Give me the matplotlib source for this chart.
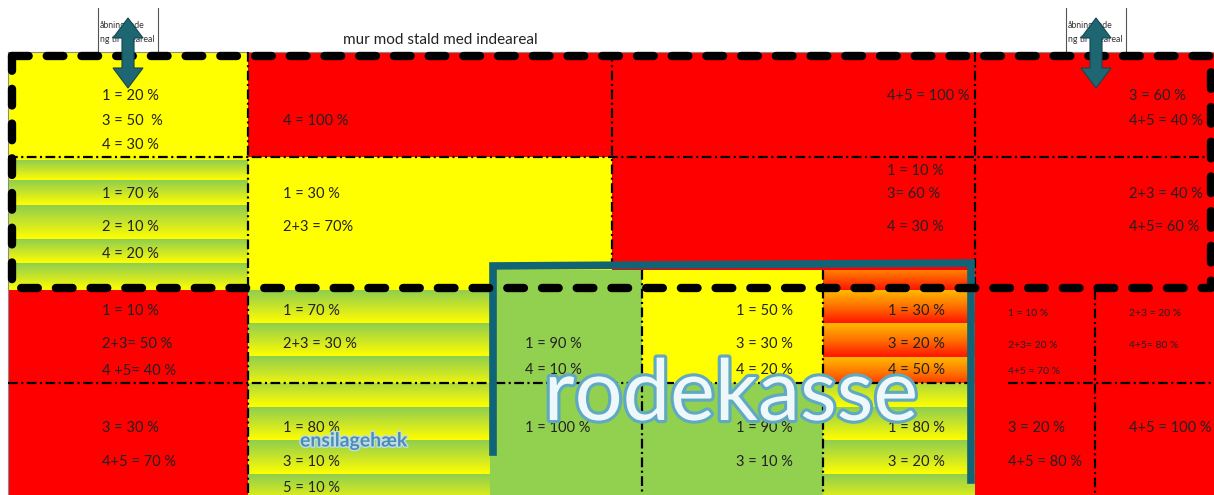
import matplotlib.pyplot as plt
import numpy as np
import matplotlib.patheffects as pe
from matplotlib.colors import LinearSegmentedColormap
from matplotlib.patches import Rectangle, Polygon

plt.rcParams['font.family'] = ['Lato', 'DejaVu Sans']
plt.rcParams['lines.scale_dashes'] = False

W, H = 1214, 495

# colour blocks: x0, x1, y0, y1, fill, stripe edges (for gradient fills)
blocks = [
    (8, 248, 52, 157, "yellow", None),
    (248, 612, 52, 157, "red", None),
    (612, 1214, 52, 157, "red", None),
    (8, 248, 157, 290, "gy", [137, 160, 180, 205, 239, 263, 290]),
    (248, 612, 157, 290, "yellow", None),
    (612, 1214, 157, 290, "red", None),
    (8, 248, 290, 495, "red", None),
    (248, 490, 290, 383, "gy", [290, 323, 356, 389]),
    (248, 490, 383, 495, "gy", [374, 407, 440, 474, 507]),
    (490, 642, 270, 495, "green", None),
    (642, 823, 270, 383, "yellow", None),
    (823, 975, 270, 383, "or", [257, 290, 323, 357, 390]),
    (642, 823, 383, 495, "green", None),
    (823, 975, 383, 495, "gy", [374, 407, 440, 474, 507]),
    (975, 1214, 290, 495, "red", None),
]

# text columns (left edge of the text) and text lines
col_x = {"A": 102, "B": 283, "C": 887, "D": 1129, "E": 525, "F": 736,
         "G": 888, "H": 1008, "I": 1129}

cell_texts = [
    ("A", [96, 121, 145], ["1 = 20 %", "3 = 50  %", "4 = 30 %"]),
    ("B", [121], ["4 = 100 %"]),
    ("C", [96], ["4+5 = 100 %"]),
    ("D", [96, 121], ["3 = 60 %", "4+5 = 40 %"]),
    ("A", [194, 227, 254], ["1 = 70 %", "2 = 10 %", "4 = 20 %"]),
    ("B", [194, 227], ["1 = 30 %", "2+3 = 70%"]),
    ("C", [171, 194, 227], ["1 = 10 %", "3= 60 %", "4 = 30 %"]),
    ("D", [194, 227], ["2+3 = 40 %", "4+5= 60 %"]),
    ("A", [311, 344, 371], ["1 = 10 %", "2+3= 50 %", "4 +5= 40 %"]),
    ("B", [311, 344], ["1 = 70 %", "2+3 = 30 %"]),
    ("E", [344, 370], ["1 = 90 %", "4 = 10 %"]),
    ("F", [311, 344, 370], ["1 = 50 %", "3 = 30 %", "4 = 20 %"]),
    ("G", [311, 344, 370], ["1 = 30 %", "3 = 20 %", "4 = 50 %"]),
    ("A", [428, 462], ["3 = 30 %", "4+5 = 70 %"]),
    ("B", [428, 462, 488], ["1 = 80 %", "3 = 10 %", "5 = 10 %"]),
    ("E", [428], ["1 = 100 %"]),
    ("F", [428, 462], ["1 = 90 %", "3 = 10 %"]),
    ("G", [428, 462], ["1 = 80 %", "3 = 20 %"]),
    ("H", [428, 462], ["3 = 20 %", "4+5 = 80 %"]),
    ("I", [428], ["4+5 = 100 %"]),
]

small_texts = [
    ("H", [313, 345, 372], ["1 = 10 %", "2+3= 20 %", "4+5 = 70 %"]),
    ("I", [313, 345], ["2+3 = 20 %", "4+5= 80 %"]),
]

# dash-dot cell borders
v_lines = [(248, 52, 495), (612, 52, 268), (975, 52, 290), (642, 270, 495),
           (823, 270, 495), (1095, 290, 495)]
h_lines = [(157, 8, 1214), (383, 8, 970), (383, 1008, 1214)]

fills = {"red": "#FF0000", "yellow": "#FFFF00", "green": "#92D050"}
cmaps = {
    "gy": LinearSegmentedColormap.from_list("gy", ["#8FCF4E", "#C8E42A", "#FFFF00"]),
    "or": LinearSegmentedColormap.from_list("or", ["#FFB800", "#FF7000", "#FF1500"]),
}

fig = plt.figure(figsize=(W / 100, H / 100), dpi=100)
ax = fig.add_axes([0, 0, 1, 1])
ax.axis("off")

grad = np.linspace(0, 1, 64).reshape(-1, 1)
for x0, x1, y0, y1, kind, edges in blocks:
    clip = Rectangle((x0, y0), x1 - x0, y1 - y0, facecolor="none", edgecolor="none")
    ax.add_patch(clip)
    if edges is None:
        ax.add_patch(Rectangle((x0, y0), x1 - x0, y1 - y0, facecolor=fills[kind],
                               edgecolor="none", zorder=1))
    else:
        for ys, ye in zip(edges[:-1], edges[1:]):
            im = ax.imshow(grad, cmap=cmaps[kind], extent=(x0, x1, ye, ys),
                           aspect="auto", interpolation="bilinear", origin="upper", zorder=1)
            im.set_clip_path(clip)

# thin grey outline on the top and left
ax.plot([8, 1214], [52, 52], color="#8a8a8a", lw=0.8, zorder=2)
ax.plot([8, 8], [52, 495], color="#8a8a8a", lw=0.8, zorder=2)

dd = (0, (7, 2.5, 1.5, 2.5))
for x, ya, yb in v_lines:
    ax.plot([x, x], [ya, yb], color="black", lw=1.6, linestyle=dd, zorder=3)
for y, xa, xb in h_lines:
    ax.plot([xa, xb], [y, y], color="black", lw=1.6, linestyle=dd, zorder=3)

# rodekasse outline
teal = "#116475"
ax.plot([493, 493, 971, 971], [452, 266, 263, 480], color=teal, lw=5.5,
        solid_joinstyle="miter", zorder=4)

# thick dashed frame
ax.plot([12, 1211, 1211, 12, 12], [56, 56, 288, 288, 56], color="black", lw=6,
        linestyle=(0, (12, 13)), dash_capstyle="round", zorder=5)

for col, ys, lines in cell_texts:
    for y, t in zip(ys, lines):
        ax.text(col_x[col], y, t, fontsize=10.5, color="#222222", va="center",
                ha="left", zorder=6)
for col, ys, lines in small_texts:
    for y, t in zip(ys, lines):
        ax.text(col_x[col], y, t, fontsize=7.5, color="#222222", va="center",
                ha="left", zorder=6)

ax.text(343, 40, "mur mod stald med indeareal", fontsize=11, color="#222222",
        va="center", ha="left")

# small opening labels with double arrows
for bx, cx in [(98, 128), (1066, 1096)]:
    ax.plot([bx, bx], [8, 52], color="#555555", lw=0.8, zorder=2)
    ax.plot([bx + 60, bx + 60], [8, 52], color="#555555", lw=0.8, zorder=2)
    ax.text(bx + 2, 25, "åbningende", fontsize=6.3, color="#333333", va="center")
    ax.text(bx + 2, 39, "ng til udeareal", fontsize=6.3, color="#333333", va="center")
    arrow = [(cx, 18), (cx + 15, 38), (cx + 6, 38), (cx + 6, 68), (cx + 15, 68),
             (cx, 88), (cx - 15, 68), (cx - 6, 68), (cx - 6, 38), (cx - 15, 38)]
    ax.add_patch(Polygon(arrow, closed=True, facecolor="#1E6672", edgecolor="#134750",
                         lw=0.8, zorder=7))

ax.text(300, 441, "ensilagehæk", fontsize=14, fontweight="bold", color="#4D8DB2",
        va="center", ha="left", zorder=8,
        path_effects=[pe.withStroke(linewidth=2, foreground="#BFDDE9")])

ax.text(731, 396, "rodekasse", fontsize=61, color="#EEF8FB", va="center",
        ha="center", zorder=8,
        path_effects=[pe.withStroke(linewidth=4.5, foreground="#5FA9C2")])

ax.set_xlim(0, W)
ax.set_ylim(H, 0)
fig.savefig("out.png", dpi=100)
